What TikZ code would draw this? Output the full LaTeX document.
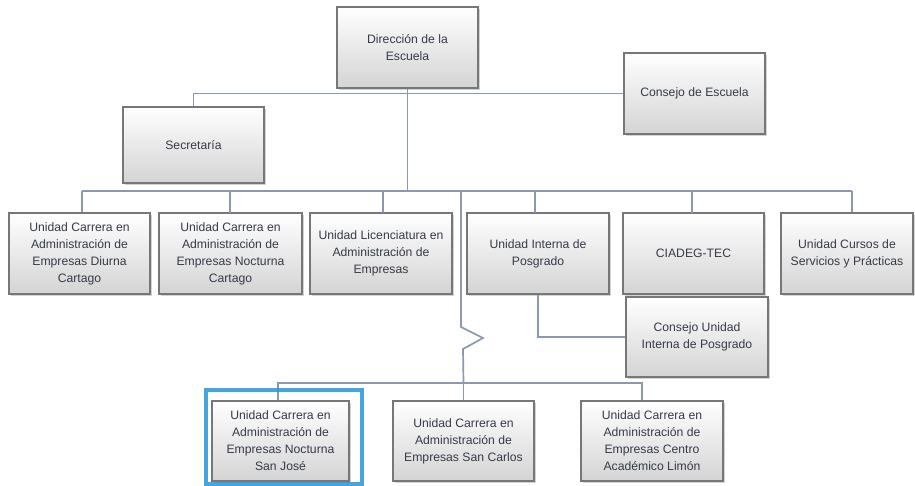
\documentclass[tikz,border=0pt]{standalone}
\usepackage{fontspec}
\setmainfont{Liberation Sans}
\usetikzlibrary{shadows}
\definecolor{txt}{HTML}{363B48}
\definecolor{conn}{HTML}{8A99AD}
\definecolor{boxline}{HTML}{777777}
\definecolor{hl}{RGB}{35,150,215}
\begin{document}
\begin{tikzpicture}[x=1pt,y=-1pt,
  orgbox/.style={draw=boxline, line width=1.2pt, top color=white, bottom color=black!17,
    drop shadow={shadow xshift=1.5pt, shadow yshift=-1.8pt, opacity=0.35},
    text=txt, align=center, inner sep=2pt,
    font=\fontsize{12.2}{17}\selectfont},
  link/.style={draw=conn, line width=1.7pt},
  highlight/.style={draw=hl, line width=3.4pt, opacity=0.85}]
\useasboundingbox (0,0) rectangle (915,485);
% boxes
\node[orgbox, minimum width=141pt, minimum height=81pt] (dir) at (407.5,47.5) {Dirección de la\\Escuela};
\node[orgbox, minimum width=141pt, minimum height=81pt] (cons) at (694.5,93.5) {Consejo de Escuela};
\node[orgbox, minimum width=141pt, minimum height=76pt] (sec) at (193.5,145) {Secretaría};
\node[orgbox, minimum width=141pt, minimum height=81pt] (b1) at (79.5,253.5) {Unidad Carrera en\\Administración de\\Empresas Diurna\\Cartago};
\node[orgbox, minimum width=143pt, minimum height=81pt] (b2) at (230.5,253.5) {Unidad Carrera en\\Administración de\\Empresas Nocturna\\Cartago};
\node[orgbox, minimum width=142pt, minimum height=81pt] (b3) at (381,253.5) {Unidad Licenciatura en\\Administración de\\Empresas};
\node[orgbox, minimum width=142pt, minimum height=81pt] (pos) at (538,253.5) {Unidad Interna de\\Posgrado};
\node[orgbox, minimum width=141pt, minimum height=81pt] (cia) at (693.5,253.5) {CIADEG-TEC};
\node[orgbox, minimum width=132pt, minimum height=81pt] (cur) at (847,253.5) {Unidad Cursos de\\Servicios y Prácticas};
\node[orgbox, minimum width=142pt, minimum height=80pt] (cui) at (697,337) {Consejo Unidad\\Interna de Posgrado};
\node[orgbox, minimum width=137pt, minimum height=80pt] (sj) at (280.5,441) {Unidad Carrera en\\Administración de\\Empresas Nocturna\\San José};
\node[orgbox, minimum width=141pt, minimum height=80pt] (sc) at (463.5,441) {Unidad Carrera en\\Administración de\\Empresas San Carlos};
\node[orgbox, minimum width=142pt, minimum height=80pt] (lim) at (652,441) {Unidad Carrera en\\Administración de\\Empresas Centro\\Académico Limón};
% bus coordinates
\coordinate (busL) at (82,191);
\coordinate (busR) at (852,191);
\coordinate (jtop) at (461,191);
\coordinate (j1) at (461,327);
\coordinate (j2) at (483,338);
\coordinate (j3) at (463,349);
\coordinate (lowL) at (278,383);
\coordinate (lowR) at (642,383);
% connectors
\draw[link] (cons.west) -- (sec.north |- cons.west) -- (sec.north);
\draw[link] (dir.south) -- (dir.south |- busL);
\draw[link] (busL) -- (busR);
\draw[link] (busL) -- (busL |- b1.north);
\draw[link] (230,191) -- (230,213);
\draw[link] (383,191) -- (383,213);
\draw[link] (535,191) -- (535,213);
\draw[link] (692,191) -- (692,213);
\draw[link] (busR) -- (busR |- cur.north);
\draw[link] (pos.south) -- (pos.south |- cui.west) -- (cui.west);
\draw[link] (jtop) -- (j1) -- (j2) -- (j3) -- (sc.north |- lowL);
\draw[link] (lowL |- sj.north) -- (lowL) -- (lowR) -- (lowR |- lim.north);
\draw[link] (sc.north |- lowL) -- (sc.north);
% highlight
\draw[highlight] (206,390) rectangle (362,484);
\end{tikzpicture}
\end{document}
